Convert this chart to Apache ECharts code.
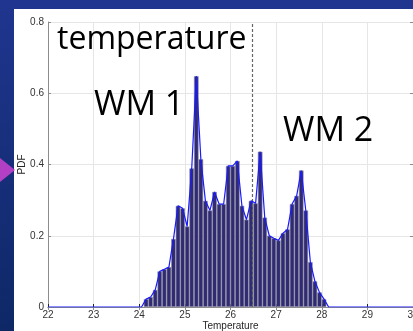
<!DOCTYPE html>
<html><head><meta charset="utf-8">
<script src="https://cdn.jsdelivr.net/npm/echarts@6/dist/echarts.min.js"></script>
<style>html,body{margin:0;padding:0;}#c{width:413px;height:331px;}</style>
</head><body><div id="c"></div>
<script>
const binCenters = [24.15,24.25,24.35,24.45,24.55,24.65,24.75,24.85,24.95,25.05,
  25.15,25.25,25.35,25.45,25.55,25.65,25.75,25.85,25.95,26.05,
  26.15,26.25,26.35,26.45,26.55,26.65,26.75,26.85,26.95,27.05,
  27.15,27.25,27.35,27.45,27.55,27.65,27.75,27.85,27.95,28.05];
const pdfValues = [0.022,0.028,0.048,0.100,0.106,0.112,0.191,0.284,0.277,0.226,
  0.389,0.648,0.415,0.298,0.271,0.323,0.289,0.289,0.396,0.396,
  0.410,0.284,0.245,0.298,0.291,0.436,0.251,0.200,0.193,0.187,
  0.207,0.218,0.289,0.312,0.383,0.271,0.126,0.072,0.041,0.022];
const lineStartX = [22, 24.05];
const lineEndX = [28.15, 30];
const splitTemperature = 26.47;
const xTicks = [22,23,24,25,26,27,28,29,30];
const yTicks = [0,0.2,0.4,0.6,0.8];
const annotations = ['temperature','WM 1','WM 2'];

const barData = binCenters.map((x,i)=>[x,pdfValues[i]]);
const lineData = lineStartX.map(x=>[x,0]).concat(barData, lineEndX.map(x=>[x,0]));

const chart = echarts.init(document.getElementById('c'));
const axisGrey = '#8c8c8c';
chart.setOption({
  animation:false,
  backgroundColor:'transparent',
  graphic:[
    {type:'rect',z:-10,shape:{x:0,y:0,width:413,height:331},
     style:{fill:new echarts.graphic.LinearGradient(0,0,0,1,[{offset:0,color:'#20358f'},{offset:1,color:'#0e2866'}])}},
    {type:'rect',z:-9,shape:{x:14,y:9,width:399,height:322},style:{fill:'#ffffff'}},
    {type:'polygon',z:-8,shape:{points:[[0,158],[15,170],[0,182]]},style:{fill:'#b23fc4'}},
    {type:'text',z:100,left:57,top:24,style:{text:annotations[0],font:'32px "Open Sans"',fill:'#000'}},
    {type:'text',z:100,left:94,top:88,style:{text:annotations[1],font:'34px "Open Sans"',fill:'#000'}},
    {type:'text',z:100,left:283,top:114,style:{text:annotations[2],font:'34px "Open Sans"',fill:'#000'}}
  ],
  grid:{left:48,right:0,top:22,bottom:24,containLabel:false,outerBoundsMode:'none'},
  xAxis:[{type:'value',min:22,max:30,interval:1,
    name:'Temperature',nameLocation:'middle',nameGap:14,nameMoveOverlap:false,
    nameTextStyle:{fontFamily:'Liberation Sans',fontSize:10,color:'#262626'},
    axisLine:{show:true,lineStyle:{color:axisGrey}},
    axisTick:{show:true,inside:true,length:3,lineStyle:{color:'#262626'}},
    axisLabel:{fontFamily:'Liberation Sans',fontSize:10,color:'#333',margin:3},
    splitLine:{show:true,lineStyle:{color:'#e6e6e6',width:1}}},
   {type:'value',position:'top',min:22,max:30,interval:1,
    axisLine:{show:true,lineStyle:{color:axisGrey}},
    axisTick:{show:true,inside:true,length:3,lineStyle:{color:axisGrey}},
    axisLabel:{show:false},splitLine:{show:false}}],
  yAxis:[{type:'value',min:0,max:0.8,interval:0.2,
    name:'PDF',nameLocation:'middle',nameGap:21,nameMoveOverlap:false,
    nameTextStyle:{fontFamily:'Liberation Sans',fontSize:10,color:'#262626'},
    axisLine:{show:true,lineStyle:{color:axisGrey}},
    axisTick:{show:true,inside:true,length:3,lineStyle:{color:axisGrey}},
    axisLabel:{fontFamily:'Liberation Sans',fontSize:10,color:'#333',margin:4,
      formatter:v=>v===0?'0':v.toFixed(1)},
    splitLine:{show:true,lineStyle:{color:'#e6e6e6',width:1}}},
   {type:'value',position:'right',min:0,max:0.8,interval:0.2,
    axisLine:{show:true,lineStyle:{color:axisGrey}},
    axisTick:{show:true,inside:true,length:3,lineStyle:{color:axisGrey}},
    axisLabel:{show:false},splitLine:{show:false}}],
  series:[
    {type:'bar',data:barData,barWidth:4.55,
     itemStyle:{color:'#302b73',borderColor:'#8f8fa0',borderWidth:0.6},
     markLine:{silent:true,symbol:['none','none'],label:{show:false},
       lineStyle:{color:'#666',type:[3,2],width:1.2},
       data:[{xAxis:splitTemperature}]}},
    {type:'line',data:lineData,showSymbol:false,symbol:'none',
     lineStyle:{color:'#1a1aff',width:1.2},z:5}
  ]
});
</script></body></html>
